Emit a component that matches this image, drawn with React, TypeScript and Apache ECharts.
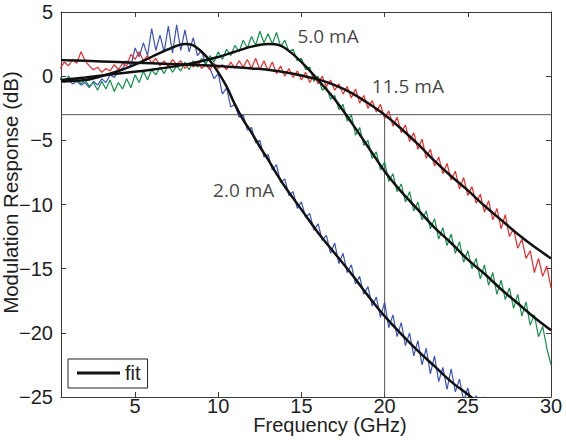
import React, { useEffect, useRef } from "react";
import * as echarts from "echarts";

// ---------- data ----------
const X_MIN = 0.55;
const X_MAX = 30;
const Y_MIN = -25;
const Y_MAX = 5;
const X_TICKS = [5, 10, 15, 20, 25, 30];

// measured responses, sampled from 0.5 GHz every 0.25 GHz
const MEAS_START = 0.5;
const MEAS_STEP = 0.25;

const BLUE_MEAS = [
  -0.2, -0.5, -0.3, -0.6, -0.4, -0.7, -0.5, -0.9, -0.4, -0.7,
  -0.2, -0.5, 0.1, -0.1, 0.4, 0.6, 1.2, 0.8, 2.2, 1.5,
  2.6, 1.6, 3.7, 2.0, 3.2, 1.9, 3.9, 1.8, 4.0, 2.0,
  3.6, 1.9, 3.0, 1.6, 2.0, 0.9, 0.6, -0.2, 0.2, -1.4,
  -0.9, -2.4, -2.2, -3.2, -3.0, -4.2, -4.0, -5.2, -5.0, -6.3,
  -6.1, -7.3, -6.9, -8.3, -8.0, -9.3, -9.0, -10.3, -9.8, -11.0,
  -10.7, -12.0, -11.5, -12.8, -12.4, -13.8, -13.0, -14.6, -13.8, -15.3,
  -14.7, -16.2, -15.6, -17.0, -16.4, -17.9, -17.2, -18.8, -17.6, -19.6,
  -18.6, -20.3, -19.2, -21.0, -20.0, -21.8, -20.6, -22.5, -21.2, -23.2,
  -21.8, -23.8, -22.7, -24.4, -22.8, -24.6, -23.6, -25.3, -24.3, -25.5,
  -24.9, -25.8, -25.0, -26.0, -25.2,
];

const GREEN_MEAS = [
  -0.1, -0.5, 0.0, -0.4, -0.2, -0.6, -0.3, -0.8, -0.5, -1.1,
  -0.4, -1.0, -0.3, -1.2, -0.5, -1.0, -0.2, -0.9, 0.1, -0.5,
  0.4, -0.3, 0.5, 0.1, 0.7, 0.2, 0.9, 0.3, 0.8, 0.4,
  1.1, 0.5, 1.2, 0.7, 1.4, 0.9, 1.6, 1.1, 1.9, 1.3,
  2.1, 1.6, 2.4, 1.9, 2.8, 2.2, 3.1, 2.4, 3.5, 2.6,
  3.3, 2.5, 3.4, 2.3, 2.8, 1.9, 2.1, 1.2, 1.4, 0.5,
  0.7, -0.4, 0.0, -1.1, -0.8, -1.8, -1.5, -2.6, -2.2, -3.5,
  -3.0, -4.6, -4.0, -5.4, -5.0, -6.4, -5.9, -7.3, -6.7, -8.2,
  -7.6, -9.0, -8.4, -9.8, -9.0, -10.5, -9.8, -11.2, -10.5, -11.9,
  -11.1, -12.7, -11.8, -13.2, -12.3, -13.8, -12.9, -14.5, -13.6, -15.0,
  -14.2, -15.8, -14.7, -16.3, -15.3, -17.0, -15.9, -17.4, -16.5, -18.1,
  -17.0, -18.7, -17.6, -19.4, -18.6, -20.3, -19.5, -21.2, -22.5,
];

const RED_MEAS = [
  0.6, 1.1, 0.8, 1.3, 1.0, 1.9, 1.2, 0.8, 0.5, 0.7,
  0.3, 0.6, 0.4, 0.9, 0.5, 1.0, 0.8, 1.7, 1.3, 1.9,
  1.2, 1.6, 1.0, 1.4, 0.8, 1.2, 0.7, 1.3, 0.9, 1.2,
  0.6, 1.0, 0.7, 1.1, 0.6, 0.9, 0.5, 1.0, 0.6, 0.9,
  0.5, 1.1, 0.6, 1.2, 0.7, 1.3, 0.6, 1.4, 0.5, 1.2,
  0.4, 1.1, 0.2, 0.8, 0.0, 0.6, -0.1, 0.4, -0.3, 0.3,
  -0.5, 0.1, -0.6, 0.0, -0.8, -0.3, -1.1, -0.6, -1.4, -0.8,
  -1.7, -1.0, -2.1, -1.5, -2.5, -1.9, -2.8, -2.2, -3.3, -2.7,
  -3.9, -3.2, -4.4, -3.8, -5.1, -4.4, -5.7, -4.9, -6.4, -5.7,
  -7.0, -6.3, -7.6, -6.8, -8.1, -7.4, -8.8, -7.9, -9.3, -8.6,
  -9.9, -9.2, -10.6, -9.7, -11.2, -10.3, -11.9, -10.8, -12.5, -11.9,
  -13.4, -12.7, -14.2, -13.6, -15.3, -14.2, -15.6, -14.8, -16.5,
];

// fitted responses
const BLUE_FIT_F = [0.55, 2, 3, 4, 5, 6, 7, 8, 8.5, 9, 9.5, 10, 10.5, 11, 11.5, 12, 12.5, 13, 13.5, 14, 14.5, 15, 16, 17, 18, 19, 20, 21, 22, 23, 24, 25, 25.3];
const BLUE_FIT_DB = [-0.4, -0.3, 0, 0.4, 0.9, 1.5, 2.1, 2.5, 2.4, 1.9, 1.2, 0.3, -0.8, -2.2, -3.4, -4.4, -5.5, -6.5, -7.6, -8.6, -9.5, -10.4, -12.2, -13.8, -15.4, -17.1, -18.7, -20.1, -21.4, -22.6, -23.8, -24.8, -25.1];

const GREEN_FIT_F = [0.55, 2, 4, 6, 8, 10, 11, 12, 13, 13.7, 14.5, 15.3, 16, 17, 18, 19, 20, 21, 22, 23, 24, 25, 26, 27, 28, 29, 30];
const GREEN_FIT_DB = [-0.3, -0.1, 0.2, 0.5, 0.9, 1.5, 1.9, 2.3, 2.5, 2.4, 1.7, 0.7, -0.3, -1.8, -3.6, -5.5, -7.4, -9.0, -10.4, -11.8, -13.0, -14.3, -15.4, -16.6, -17.7, -18.8, -19.8];

const RED_FIT_F = [0.55, 2, 4, 6, 8, 10, 12, 13, 14, 15, 16, 17, 18, 19, 20, 21, 22, 23, 24, 25, 26, 27, 28, 29, 30];
const RED_FIT_DB = [1.25, 1.2, 1.1, 1.0, 0.9, 0.8, 0.6, 0.5, 0.3, 0.05, -0.25, -0.7, -1.3, -2.1, -3.0, -4.1, -5.3, -6.6, -7.8, -8.9, -10.1, -11.2, -12.3, -13.3, -14.2];

// reference lines
const THRESHOLD_DB = -3;
const MARK_FREQ = 20;

// curve annotations
const ANNOT_TEXT = ["5.0 mA", "11.5 mA", "2.0 mA"];
const ANNOT_F = [16.6, 21.4, 11.53];
const ANNOT_DB = [3.13, -0.77, -8.87];

// ---------- helpers ----------
const FONT = "'Liberation Sans', Arial, sans-serif";
const AXIS_COLOR = "#3a3a3a";
const TEXT_COLOR = "#1e1e1e";

const measPairs = (arr: number[]) => arr.map((v, i) => [MEAS_START + i * MEAS_STEP, v]);
const fitPairs = (f: number[], d: number[]) => f.map((x, i) => [x, d[i]]);
const minusFmt = (v: number) => (v < 0 ? "\u2212" + Math.abs(v) : String(v));

export default function App() {
  const ref = useRef<HTMLDivElement>(null);
  useEffect(() => {
    document.body.style.margin = "0";
    if (!ref.current) return;
    const chart = echarts.init(ref.current, undefined, { renderer: "svg" });

    const axisLine = { onZero: false, lineStyle: { color: AXIS_COLOR, width: 1 } };
    const tickStyle = { color: AXIS_COLOR, width: 1 };

    const measSeries = (name: string, data: number[], color: string) => ({
      name,
      type: "line",
      data: measPairs(data),
      symbol: "none",
      lineStyle: { color, width: 1.2 },
      itemStyle: { color },
      silent: true,
      clip: true,
    });
    const fitSeries = (f: number[], d: number[]) => ({
      name: "fit",
      type: "line",
      data: fitPairs(f, d),
      symbol: "none",
      smooth: 0.35,
      lineStyle: { color: "#111", width: 2.5 },
      itemStyle: { color: "#111" },
      silent: true,
      clip: true,
    });

    const option: any = {
      animation: false,
      backgroundColor: "#fff",
      grid: { left: 61, right: 15, top: 12, bottom: 43, outerBoundsMode: "none" },
      legend: {
        data: [{ name: "fit", icon: "rect" }],
        left: 68,
        top: 359,
        itemWidth: 43,
        itemHeight: 3,
        itemGap: 0,
        padding: [4, 7, 5, 9],
        borderColor: "#222",
        borderWidth: 1,
        borderRadius: 0,
        backgroundColor: "#fff",
        textStyle: { fontSize: 20, color: TEXT_COLOR, fontFamily: FONT, lineHeight: 20 },
        selectedMode: false,
      },
      xAxis: [
        {
          type: "value",
          min: X_MIN,
          max: X_MAX,
          position: "bottom",
          axisLine,
          axisTick: { inside: true, length: 5, customValues: X_TICKS, lineStyle: tickStyle },
          axisLabel: { customValues: X_TICKS, fontSize: 20, lineHeight: 16, color: TEXT_COLOR, margin: 1, fontFamily: FONT },
          splitLine: { show: false },
          name: "Frequency (GHz)",
          nameLocation: "middle",
          nameGap: 20,
          nameMoveOverlap: false,
          nameTextStyle: { fontSize: 20, lineHeight: 16, color: TEXT_COLOR, fontFamily: FONT, padding: [0, 0, 0, 48] },
        },
        {
          type: "value",
          min: X_MIN,
          max: X_MAX,
          position: "top",
          axisLine,
          axisTick: { inside: true, length: 5, customValues: X_TICKS, lineStyle: tickStyle },
          axisLabel: { show: false },
          splitLine: { show: false },
        },
      ],
      yAxis: [
        {
          type: "value",
          min: Y_MIN,
          max: Y_MAX,
          interval: 5,
          position: "left",
          axisLine,
          axisTick: { inside: true, length: 5, lineStyle: tickStyle },
          axisLabel: { formatter: minusFmt, fontSize: 20, color: TEXT_COLOR, margin: 8, fontFamily: FONT },
          splitLine: { show: false },
          name: "Modulation Response (dB)",
          nameLocation: "middle",
          nameGap: 41,
          nameMoveOverlap: false,
          nameTextStyle: { fontSize: 20.5, lineHeight: 20, color: TEXT_COLOR, fontFamily: FONT, padding: [0, 0, 0, 24] },
        },
        {
          type: "value",
          min: Y_MIN,
          max: Y_MAX,
          interval: 5,
          position: "right",
          axisLine,
          axisTick: { inside: true, length: 5, lineStyle: tickStyle },
          axisLabel: { show: false },
          splitLine: { show: false },
        },
      ],
      series: [
        {
          name: "threshold",
          type: "line",
          data: [[X_MIN, THRESHOLD_DB], [X_MAX, THRESHOLD_DB]],
          symbol: "none",
          lineStyle: { color: "#555", width: 1 },
          silent: true,
        },
        {
          name: "marker",
          type: "line",
          data: [[MARK_FREQ, THRESHOLD_DB], [MARK_FREQ, Y_MIN]],
          symbol: "none",
          lineStyle: { color: "#555", width: 1 },
          silent: true,
        },
        measSeries("2.0 mA data", BLUE_MEAS, "#3b55b8"),
        measSeries("5.0 mA data", GREEN_MEAS, "#13904a"),
        measSeries("11.5 mA data", RED_MEAS, "#ec2a2a"),
        fitSeries(BLUE_FIT_F, BLUE_FIT_DB),
        fitSeries(GREEN_FIT_F, GREEN_FIT_DB),
        fitSeries(RED_FIT_F, RED_FIT_DB),
        {
          name: "annotations",
          type: "scatter",
          symbolSize: 0,
          silent: true,
          data: ANNOT_TEXT.map((t, i) => ({ name: t, value: [ANNOT_F[i], ANNOT_DB[i]] })),
          label: {
            show: true,
            position: "inside",
            formatter: (p: any) => p.name,
            fontSize: 19,
            color: "#111",
            fontFamily: "'Open Sans', sans-serif",
          },
        },
      ],
    };
    chart.setOption(option);
    return () => chart.dispose();
  }, []);
  return <div ref={ref} style={{ width: 566, height: 440 }} />;
}
